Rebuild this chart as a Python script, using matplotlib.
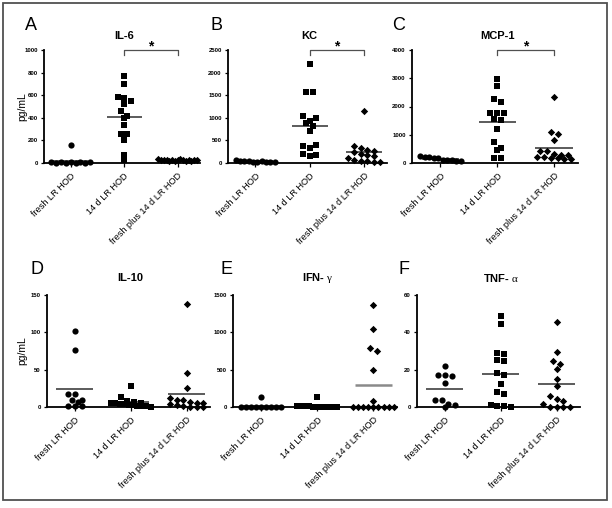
import numpy as np
import matplotlib
matplotlib.use("Agg")
import matplotlib.pyplot as plt
from matplotlib.patches import Rectangle

plt.rcParams['font.family'] = ['Liberation Sans', 'DejaVu Sans']
plt.rcParams['mathtext.fontset'] = 'custom'
plt.rcParams['mathtext.rm'] = 'Liberation Serif'
plt.rcParams['mathtext.it'] = 'Liberation Serif:italic'

# ---------------- data ----------------
groups = ["fresh LR HOD", "14 d LR HOD", "fresh plus 14 d LR HOD"]

il6_fresh = [158, 6, 4, 8, 2, 5, 3, 7, 2, 5]
il6_14d = [772, 698, 586, 577, 547, 518, 462, 417, 396, 334, 257, 254, 207, 74, 24]
il6_fp = [35, 30, 28, 25, 22, 30, 20, 26, 33, 24, 18, 28, 22, 30, 27]

kc_fresh = [60, 45, 40, 35, 30, 25, 40, 20, 30, 15]
kc_14d = [2190, 1561, 1561, 1029, 925, 1006, 880, 821, 703, 370, 340, 392, 200, 155, 178]
kc_fp = [1150, 380, 340, 280, 270, 250, 200, 180, 150, 120, 60, 50, 40, 30, 20]

mcp_fresh = [250, 220, 200, 180, 160, 120, 100, 90, 80, 70]
mcp_14d = [2958, 2722, 2248, 2166, 1775, 1775, 1775, 1550, 1515, 1195, 734, 544, 450, 177, 177]
mcp_fp = [2340, 1080, 1020, 830, 430, 420, 330, 280, 270, 210, 200, 190, 170, 150, 130]

il10_fresh = [102, 77, 17, 17, 9, 10, 7, 1, 1, 1]
il10_14d = [28, 13, 8, 7, 6, 5, 5, 4, 4, 3, 3, 2, 2, 1, 0]
il10_fp = [138, 45, 25, 12, 10, 9, 7, 5, 5, 4, 3, 1, 0.5, 0.5, 0.5]

ifn_fresh = [130, 5, 3, 2, 0, 0, 0, 0, 0, 0]
ifn_14d = [130, 20, 15, 12, 10, 8, 5, 5, 3, 2, 0, 0, 0, 0, 0]
ifn_fp = [1360, 1045, 790, 755, 490, 75, 0, 0, 0, 0, 0, 0, 0, 0, 0]

tnf_fresh = [22, 17, 17, 16.5, 13, 3.6, 3.6, 1.4, 0.9, 0]
tnf_14d = [48.7, 44.4, 29, 28.3, 25.4, 24.7, 18.3, 17.2, 12.4, 7.9, 6.8, 0.9, 0.7, 0.7, 0.2]
tnf_fp = [45.7, 29.2, 24.7, 23.3, 20.6, 14.9, 11.3, 5.7, 4.3, 3.4, 1.4, 0.2, 0.2, 0.2, 0.2]

panels = [
    ("A", "IL-6", [il6_fresh, il6_14d, il6_fp], [0, 200, 400, 600, 800, 1000], True, True),
    ("B", "KC", [kc_fresh, kc_14d, kc_fp], [0, 500, 1000, 1500, 2000, 2500], False, True),
    ("C", "MCP-1", [mcp_fresh, mcp_14d, mcp_fp], [0, 1000, 2000, 3000, 4000], False, True),
    ("D", "IL-10", [il10_fresh, il10_14d, il10_fp], [0, 50, 100, 150], True, False),
    ("E", r"IFN- $\mathrm{\gamma}$", [ifn_fresh, ifn_14d, ifn_fp], [0, 500, 1000, 1500], False, False),
    ("F", r"TNF- $\mathrm{\alpha}$", [tnf_fresh, tnf_14d, tnf_fp], [0, 20, 40, 60], False, False),
]

# ---------------- layout (pixels) ----------------
W, H = 612, 508
rects = [(44, 50, 200, 163), (228, 50, 387, 163), (412, 50, 578, 163),
         (47, 295, 210, 407), (233, 295, 397, 407), (417, 295, 580, 407)]
letter_pos = [(31, 26), (216, 26), (399, 26), (37, 269), (226, 269), (404, 269)]
markers = ['o', 's', 'D']
msizes = [20, 19, 14]

fig = plt.figure(figsize=(W / 100, H / 100), dpi=100)
fig.patches.append(Rectangle((3 / W, 1 - 500 / H), 604 / W, 497 / H,
                             transform=fig.transFigure, fill=False,
                             edgecolor='#505050', linewidth=1.3))


def swarm_offsets(vals, ymax, ax_h_px, msize_px=5.5, step=0.12, maxw=0.72):
    vals = np.asarray(vals, dtype=float)
    order = np.argsort(-vals, kind='stable')
    offs = np.zeros(len(vals))
    thr = msize_px / ax_h_px * ymax
    rows, cur = [], [order[0]]
    for idx in order[1:]:
        if vals[cur[0]] - vals[idx] < thr:
            cur.append(idx)
        else:
            rows.append(cur)
            cur = [idx]
    rows.append(cur)
    for row in rows:
        n = len(row)
        d = min(step, maxw / (n - 1)) if n > 1 else 0
        for i, idx in enumerate(sorted(row)):
            offs[idx] = (i - (n - 1) / 2) * d
    return offs


for k, (letter, title, data, yticks, ylab, sig) in enumerate(panels):
    l, t, r, b = rects[k]
    ax = fig.add_axes([l / W, 1 - b / H, (r - l) / W, (b - t) / H])
    ymax = yticks[-1]
    ax.set_ylim(0, ymax)
    ax.set_xlim(-0.5, 2.42)
    for side in ('top', 'right'):
        ax.spines[side].set_visible(False)
    for side in ('left', 'bottom'):
        ax.spines[side].set_linewidth(1.3)
        ax.spines[side].set_color('black')
    ax.set_yticks(yticks)
    ax.set_yticklabels([str(v) for v in yticks], fontsize=4.3, fontweight='bold')
    ax.set_xticks([0, 1, 2])
    ax.set_xticklabels(groups, rotation=45, ha='right', rotation_mode='anchor',
                       fontsize=6.6)
    ax.tick_params(axis='y', length=2.5, width=0.9, pad=2)
    ax.tick_params(axis='x', length=3, width=0.9, pad=3)
    ax_h = b - t
    for i, vals in enumerate(data):
        offs = swarm_offsets(vals, ymax, ax_h)
        ax.scatter(np.full(len(vals), i) + offs, vals, marker=markers[i],
                   s=msizes[i], color='black', linewidths=0, zorder=5,
                   clip_on=False)
        mcol = '#8a8a8a' if (title.startswith('IFN') and i == 2) else '#404040'
        mlw = 1.8 if mcol == '#8a8a8a' else 1.2
        ax.hlines(np.mean(vals), i - 0.33, i + 0.33, color=mcol, lw=mlw, zorder=4)
    if ylab:
        fig.text(22 / W, 1 - ((t + b) / 2) / H, "pg/mL", rotation=90,
                 ha='center', va='center', fontsize=7.5)
    tx = l + (1 - (-0.5)) / 2.92 * (r - l)
    ty = t - (14 if k < 3 else 17)
    fig.text(tx / W, 1 - ty / H, title, ha='center', va='center',
             fontsize=8, fontweight='bold')
    lx, ly = letter_pos[k]
    fig.text(lx / W, 1 - ly / H, letter, ha='center', va='center', fontsize=13)
    if sig:
        tick = 5 / ax_h * ymax
        ax.plot([1, 1, 2, 2], [ymax - tick, ymax, ymax, ymax - tick],
                color='#505050', lw=0.9, clip_on=False, zorder=3)
        ax.annotate("*", xy=(1.5, ymax), xytext=(0, -2.5), textcoords='offset points',
                    ha='center', va='bottom', fontsize=10, fontweight='bold',
                    annotation_clip=False)

fig.savefig("out.png", dpi=100)
